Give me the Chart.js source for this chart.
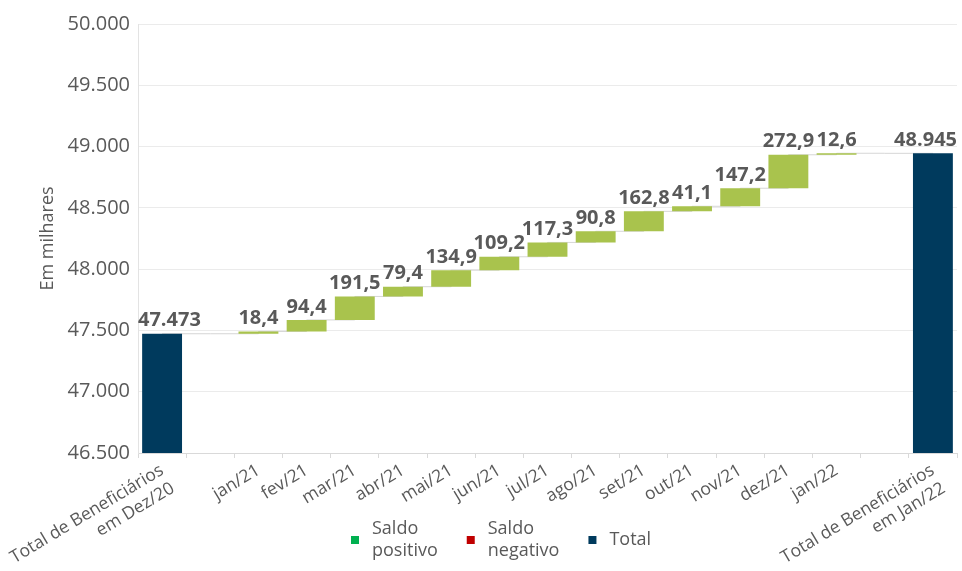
<!DOCTYPE html>
<html lang="pt-BR">
<head>
<meta charset="utf-8">
<script src="https://cdn.jsdelivr.net/npm/chart.js@4.4.1/dist/chart.umd.min.js"></script>
<style>
  html, body { margin: 0; padding: 0; background: #fff; }
  #wrap { position: relative; width: 962px; height: 571px; }
</style>
</head>
<body>
<div id="wrap"><canvas id="chart"></canvas></div>
<script>
// dados (milhares de beneficiários)
const categorias = [
  ['Total de Beneficiários', 'em Dez/20'], '',
  'jan/21', 'fev/21', 'mar/21', 'abr/21', 'mai/21', 'jun/21',
  'jul/21', 'ago/21', 'set/21', 'out/21', 'nov/21', 'dez/21', 'jan/22',
  '', ['Total de Beneficiários', 'em Jan/22']
];
const totalInicial = 47473;
const totalFinal = 48945;
const saldosMensais = [18.4, 94.4, 191.5, 79.4, 134.9, 109.2, 117.3, 90.8, 162.8, 41.1, 147.2, 272.9, 12.6];
const eixoY = [46500, 50000, 500];
const legendaTextos = [['Saldo', 'positivo'], ['Saldo', 'negativo'], ['Total']];

const COR_TOTAL = '#003a5d';
const COR_POSITIVO = '#a9c34d';
const COR_NEGATIVO = '#c00000';
const legendaCores = ['#00b050', COR_NEGATIVO, COR_TOTAL];
const CINZA = '#595959';

Chart.defaults.font.family = '"Open Sans", sans-serif';
Chart.defaults.color = CINZA;

// monta as barras flutuantes da cascata
const barras = [totalInicial, null];
const cores = [COR_TOTAL, COR_TOTAL];
const rotulos = [totalInicial.toLocaleString('pt-BR'), null];
const conectores = [totalInicial, totalInicial];
let acumulado = totalInicial;
saldosMensais.forEach(s => {
  barras.push([acumulado, acumulado + s]);
  cores.push(s >= 0 ? COR_POSITIVO : COR_NEGATIVO);
  rotulos.push(s.toLocaleString('pt-BR', { minimumFractionDigits: 1 }));
  acumulado += s;
  conectores.push(acumulado);
});
barras.push(null, totalFinal);
cores.push(COR_TOTAL, COR_TOTAL);
rotulos.push(null, totalFinal.toLocaleString('pt-BR'));
conectores.push(totalFinal, totalFinal);

// rótulos de valor acima das barras, mantidos dentro da área do gráfico
const rotulosPlugin = {
  id: 'rotulos',
  afterDatasetsDraw(chart) {
    const meta = chart.getDatasetMeta(0);
    const area = chart.chartArea;
    const ctx = chart.ctx;
    ctx.save();
    ctx.font = 'bold 20px "Open Sans", sans-serif';
    ctx.fillStyle = CINZA;
    ctx.textAlign = 'center';
    ctx.textBaseline = 'bottom';
    meta.data.forEach((bar, i) => {
      if (!rotulos[i]) return;
      const meia = ctx.measureText(rotulos[i]).width / 2;
      const x = Math.min(Math.max(bar.x, area.left + meia), area.right - meia);
      ctx.fillText(rotulos[i], x, Math.min(bar.y, bar.base) - 3);
    });
    ctx.restore();
  }
};

const legendaPlugin = {
  id: 'legendaCascata',
  afterDraw(chart) {
    const ctx = chart.ctx;
    const lh = 22, box = 8, gapBox = 13, gapItem = 29;
    ctx.save();
    ctx.font = '18px "Open Sans", sans-serif';
    ctx.textBaseline = 'middle';
    const larguras = legendaTextos.map(l => box + gapBox + Math.max(...l.map(t => ctx.measureText(t).width)));
    let x = 351;
    const yc = 540;
    legendaTextos.forEach((linhas, i) => {
      ctx.fillStyle = legendaCores[i];
      ctx.fillRect(x, yc - box / 2, box, box);
      ctx.fillStyle = CINZA;
      const y0 = yc - (linhas.length - 1) * lh / 2;
      linhas.forEach((t, j) => ctx.fillText(t, x + box + gapBox, y0 + j * lh));
      x += larguras[i] + gapItem;
    });
    ctx.restore();
  }
};

new Chart(document.getElementById('chart'), {
  data: {
    labels: categorias,
    datasets: [
      {
        type: 'bar',
        data: barras,
        backgroundColor: cores,
        barPercentage: 0.92,
        categoryPercentage: 0.9,
        order: 0
      },
      {
        type: 'line',
        data: conectores,
        stepped: 'before',
        borderColor: '#d6d6d6',
        borderWidth: 1,
        pointRadius: 0,
        order: 1
      }
    ]
  },
  options: {
    responsive: true,
    maintainAspectRatio: false,
    animation: false,
    layout: { padding: { top: 24, right: 5, bottom: 0, left: 0 } },
    plugins: {
      legend: { display: false },
      tooltip: { enabled: false }
    },
    scales: {
      x: {
        grid: { drawOnChartArea: false, drawTicks: true, tickLength: 5, color: '#d9d9d9' },
        border: { color: '#d9d9d9' },
        ticks: { font: { size: 17.5 }, color: CINZA, maxRotation: 31, minRotation: 31, autoSkip: false, padding: 2 },
        afterFit: s => { s.height = 118; }
      },
      y: {
        min: eixoY[0],
        max: eixoY[1],
        grid: { color: '#ebebeb', drawTicks: false },
        border: { color: '#e3e3e3' },
        ticks: {
          stepSize: eixoY[2],
          padding: 8,
          font: { size: 20 },
          color: CINZA,
          callback: v => v.toLocaleString('pt-BR')
        },
        title: { display: true, text: 'Em milhares', font: { size: 18 }, color: CINZA, padding: { top: 37, bottom: 4 } },
        afterFit: s => { s.width = 138; }
      }
    }
  },
  plugins: [rotulosPlugin, legendaPlugin]
});
</script>
</body>
</html>
